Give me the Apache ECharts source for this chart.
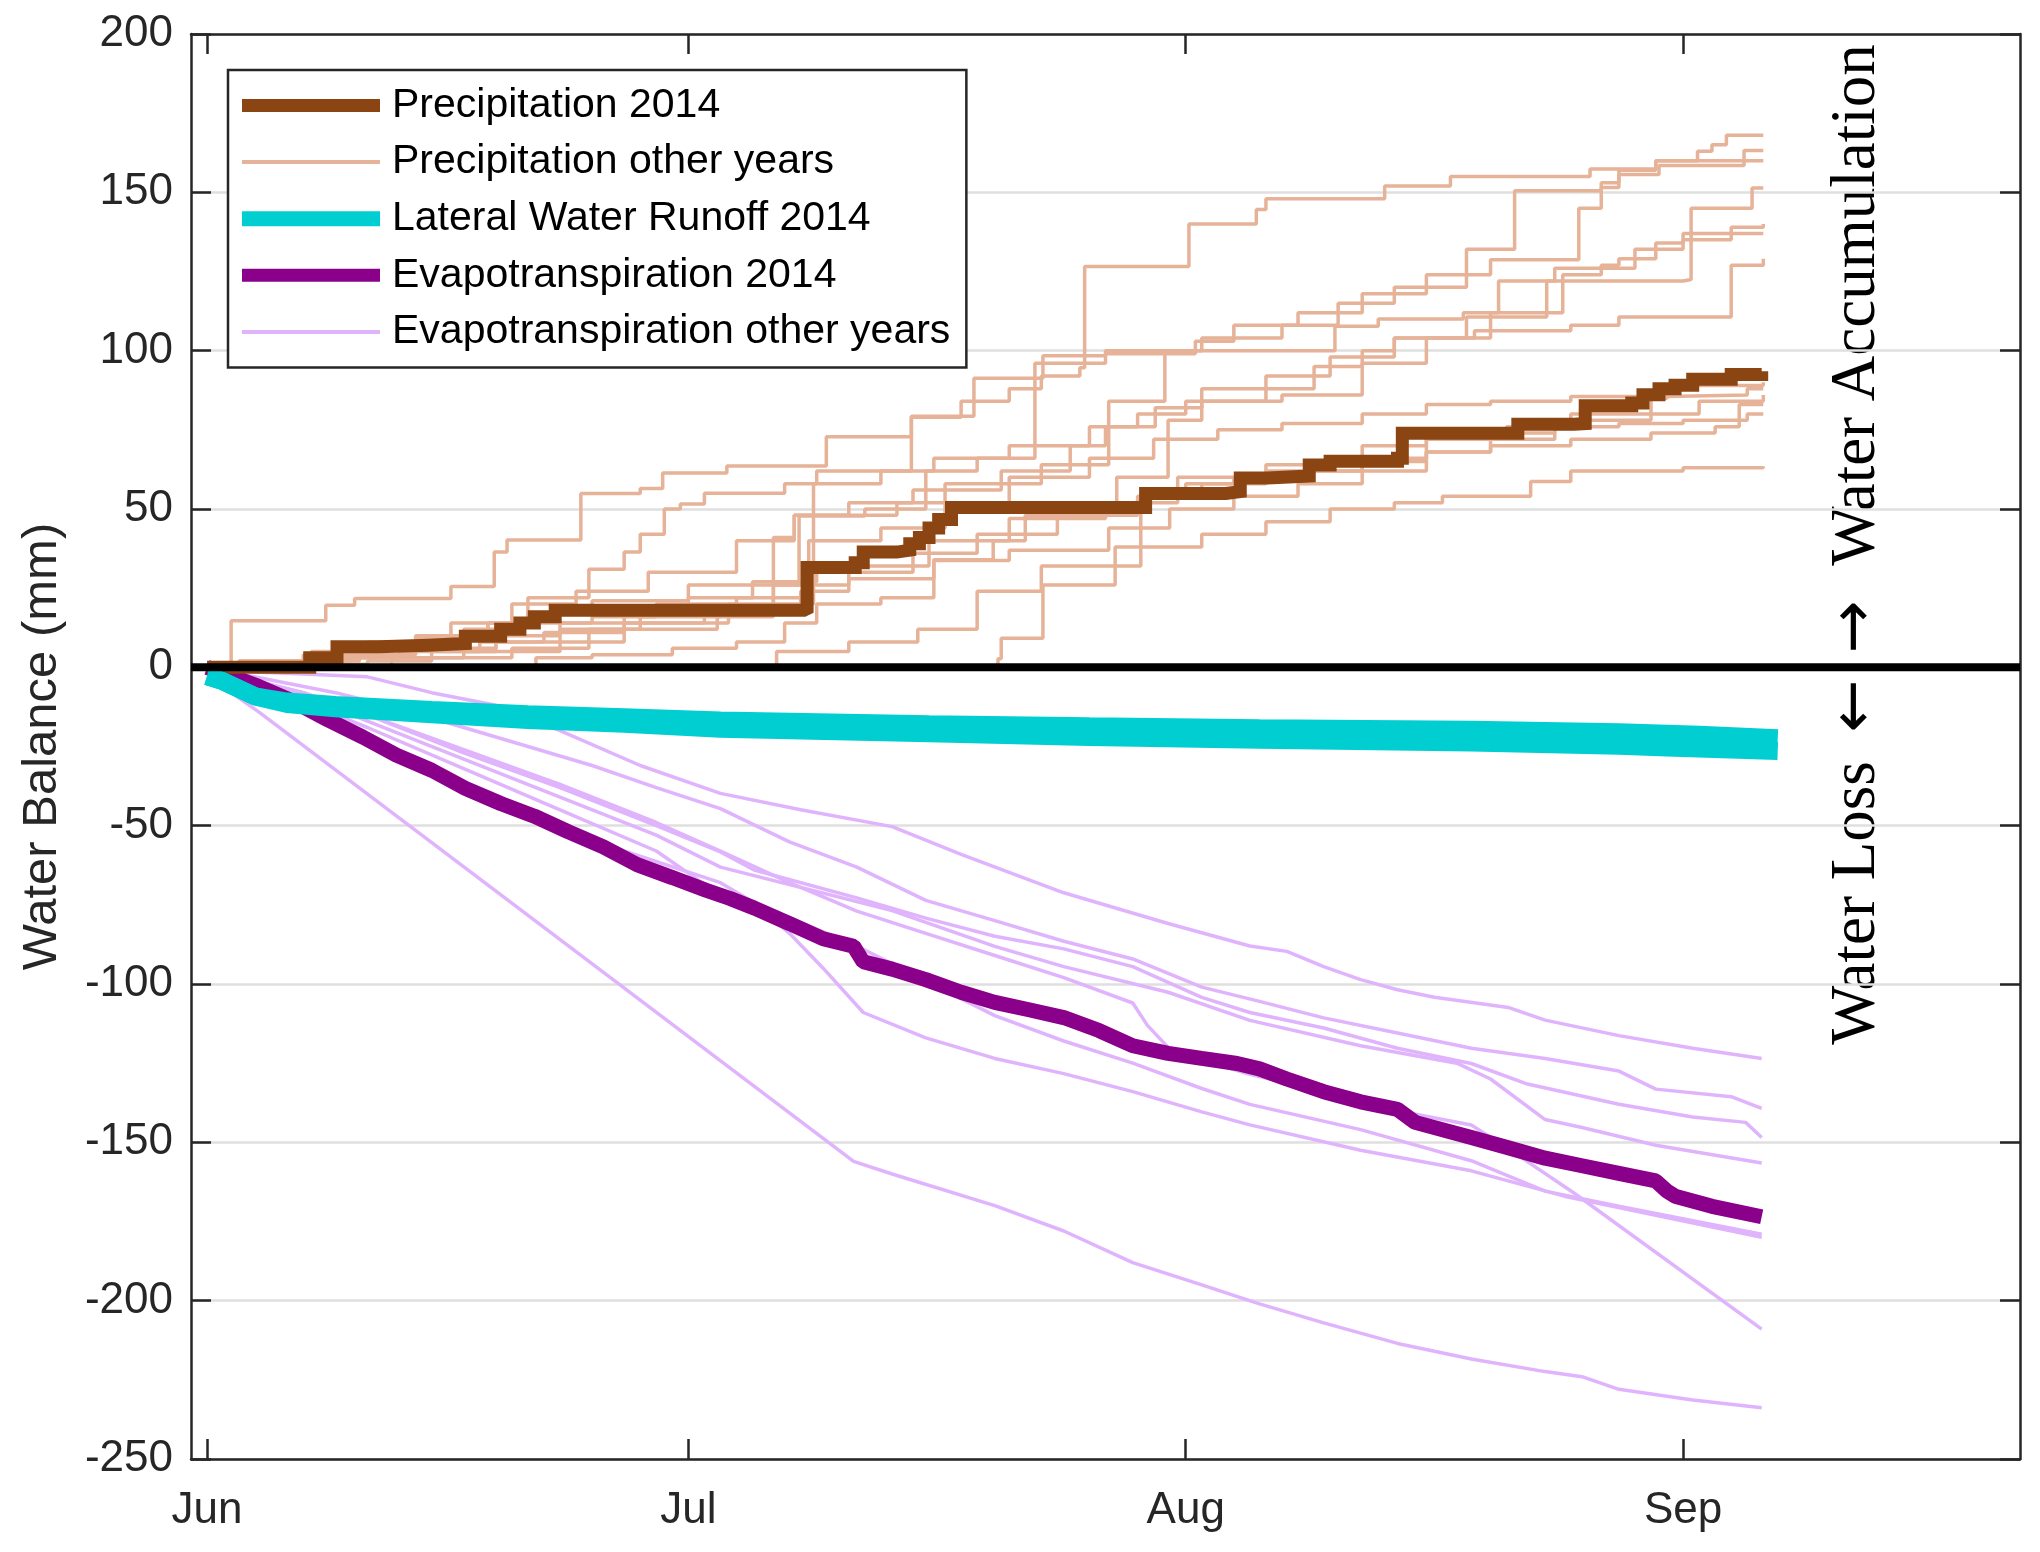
<!DOCTYPE html>
<html>
<head>
<meta charset="utf-8">
<script src="https://cdn.jsdelivr.net/npm/echarts@6/dist/echarts.min.js"></script>
<style>
  html, body { margin: 0; padding: 0; background: #fff; }
  #chart { width: 2040px; height: 1552px; }
</style>
</head>
<body>
<div id="chart"></div>
<script>
// ---- Axis definitions (days since 1 June) ----
const monthTickDays = [0, 30, 61, 92];
const monthLabels = ['Jun', 'Jul', 'Aug', 'Sep'];
const xMinDay = -1;
const xMaxDay = 113;
const yMin = -250;
const yMax = 200;
const yStep = 50;

// ---- Precipitation 2014 (cumulative, mm) : [day, value after step] ----
const precip2014 = [[0,0],[6.2,0],[6.4,3],[7.9,3],[8.1,6.5],[10.7,7],[13.8,7.5],[16.1,9.8],[18.3,12],[19.5,14],[20.4,16],[21.7,18],[37.2,18.5],[37.4,31.5],[40.4,33],[40.9,36.4],[43,37],[43.8,39],[44.4,41],[45,44],[45.6,46.7],[46.4,50.5],[58.3,50.5],[58.5,54.9],[63.5,55.5],[64.4,59.8],[66.1,60.4],[68.7,63.9],[70,65.1],[74.2,66],[74.5,73.9],[81.4,73.9],[81.7,76.8],[85.2,77],[85.9,82.6],[88.8,83.5],[89.5,86.1],[90.5,88],[91.5,89.1],[92.6,91],[95,92.5],[96.9,93.5]];

// ---- Precipitation other years ----
const precipOtherYears = [
  [[0,0],[2.5,1],[6,2],[9.5,6],[13,9],[17.5,14],[19,20],[23,24],[27.5,30],[33,40],[36.6,48],[43,52],[46,58],[52,64],[56.2,84],[59.7,100],[62,104],[67,108],[70.5,115],[74,120],[78.5,132],[81.5,150.5],[86.9,153],[88,157],[90.3,160],[92.9,163],[93.8,165],[94.7,168],[97,168]],
  [[0,0],[4,1],[8,4],[12,8],[15.2,14],[20,17],[24,21],[30,26],[36.9,47.8],[41,50],[44.8,62],[48,66],[51.6,96],[56,99],[61.6,103],[64,108],[68,112],[72,118],[76,124],[80,128.7],[85.5,145],[86.9,151.5],[88,155.6],[90.5,158.5],[95.8,163.2],[97,163.2]],
  [[0,0],[2,2],[6.5,5],[10,8],[14,10],[17.5,14],[20,22],[23.8,31],[26,36.4],[27,42],[28.5,50],[29.5,51.6],[31,55],[36,58],[38,62],[43.9,79],[47,84],[50,88],[52,92],[54.4,94.6],[54.7,126.6],[61,126.6],[61.2,140],[65.4,144.6],[66,148],[73.4,152],[77.5,155],[86.2,157.4],[90.3,160],[97,160]],
  [[0,0],[11,0],[11.5,3],[16,5],[22,8],[26,12],[31.8,16],[35.3,41],[36.6,48],[40,52],[44,56],[49.5,62],[53.8,70],[56,76],[59.1,82],[62,88],[66,92],[70,98],[74,104],[78.5,110.6],[83.5,122],[92,122.5],[92.5,145],[96.3,151.4],[97,151.4]],
  [[0,0],[7,0],[7.5,4],[13,6],[18,10],[22,12],[27,14],[32.5,20],[37.8,58],[42,62],[45.3,66],[50,70],[55,76],[58,80],[61,84],[67,86],[72,96],[76,104],[80,112],[84.5,124],[86.9,127],[88,129],[90.3,134],[92,137],[95,139],[97,140]],
  [[0,0],[1.5,14.7],[7.4,19.6],[9.2,21.7],[15.2,25.5],[17.9,36.4],[18.7,40.2],[23.3,54.9],[27,56.5],[28.4,61.4],[32.4,63.6],[38.6,72.8],[43.9,79.3],[47.8,91.3],[52.1,98.4],[56,100],[70.3,107.7],[73,110],[78.3,112],[80.5,122],[84,126],[89,132],[92,135],[95,137],[97,137]],
  [[0,0],[3,0],[3.5,2],[9,3],[14,5],[17,8],[21,11],[26,14],[31,18],[37,24],[40,28],[45.3,34],[49,40],[51,48],[56.7,60],[59.9,78],[62,84],[66,88],[69,95],[72,100],[74,104],[79,106.3],[85,108],[88,110.6],[95,127],[97,129]],
  [[0,0],[6,1],[10,2],[14,3],[19,6],[23.8,12],[26,18],[30,22],[34,27],[38,30],[44,36],[48,42],[53,48],[58,54],[61,58],[64,60],[68,62],[72,65],[76,72],[81,76],[85,80],[90,85],[91,89],[97,90]],
  [[0,0],[1,0],[2,2],[6,4],[10,7],[13,10],[16,12],[19,14],[24,16],[28,20],[33,22],[37.5,40],[42,44],[46,52],[50,60],[55,66],[59,72],[63,75],[67,77],[72,80],[76,83],[80,84],[85,85.5],[91,86],[96,88],[97,88]],
  [[0,0],[8,0],[8.5,3],[12,5],[18,8],[22,14],[27,16],[32,18],[35.3,26],[40,32],[45,40],[50,47],[56,52],[60.5,60],[66,64],[70,66],[76,68],[80,70],[85,72],[90,74],[94,76],[95.5,83],[97,83]],
  [[0,0],[20,0],[20.5,3],[24,4],[29,6],[33,8],[36,14],[38,20],[42,22],[45.3,33.7],[50,37],[56.2,44],[60,50],[64,54],[68,58],[72,62],[76,68],[80,72],[84,76],[88,77],[92,78],[96,80],[97,80]],
  [[0,0],[49.3,2.7],[49.5,9.2],[52.1,26],[56.6,38],[62,42],[66,46],[70,50],[74,52],[77,54],[82.5,58.7],[85,62],[92,63],[97,63.4]],
  [[0,0],[35,0],[35.5,5],[40,8],[44.3,12],[48,24],[52,32],[58.2,54],[62,58],[66,62],[72,70],[76,74],[84,78],[90,80],[93,84],[97,86]]
];

// ---- Lateral water runoff 2014 (two edges of the plotted band) ----
const runoff2014Upper = [[0,-2.8],[1,-4.4],[2,-6.8],[3,-9.2],[5,-10.8],[8,-11.9],[14,-13.5],[20,-14.8],[26,-15.8],[32,-16.8],[45,-18],[55,-18.6],[65.6,-19.2],[78.8,-19.7],[88,-20.5],[93,-21.3],[97.9,-22.4]];
const runoff2014Lower = [[0,-2.8],[1,-4.4],[2,-6.8],[3,-9.2],[5,-11.6],[8,-12.9],[14,-14.8],[20,-16.6],[26,-17.8],[32,-19.4],[45,-20.8],[55,-22],[65.6,-22.9],[78.8,-23.7],[88,-24.8],[91,-25.3],[97.9,-26.4]];

// ---- Evapotranspiration 2014 ----
const et2014 = [[0,0],[1.1,-2],[3.2,-6],[5.4,-10.8],[7.5,-16.5],[9.7,-22],[11.8,-27.7],[14,-32.5],[16.1,-38.2],[18.3,-43],[20.4,-47],[22.5,-51.9],[24.7,-56.7],[26.8,-62.3],[29,-66.4],[31.1,-70.4],[32.6,-73],[34.1,-76],[36.3,-80.9],[38.4,-85.7],[40.3,-88.1],[40.9,-93],[42.7,-95.3],[44.8,-98.6],[47,-102.6],[49.1,-105.8],[51.3,-108.2],[53.4,-110.6],[55.6,-114.7],[57.7,-119.5],[59.9,-121.9],[62,-123.5],[64.2,-125.1],[65.6,-126.8],[67.3,-130],[69.6,-134],[71.9,-137.2],[74.2,-139.6],[75.3,-143.7],[78.8,-148.5],[81.1,-151.7],[83.4,-155],[85.7,-157.4],[88,-159.8],[90.3,-162.2],[91,-165.4],[91.5,-167],[93.8,-170.2],[96.9,-173.5]];

// ---- Evapotranspiration other years ----
const etOtherYears = [
  [[0,0],[3,-1.5],[10,-3],[14,-8],[18,-12],[22,-20],[27,-31],[32,-39.8],[37,-45],[42.7,-50.3],[47,-59.1],[53.4,-71.2],[59.9,-80.9],[65,-88],[67.3,-89.7],[69.6,-94.5],[71.9,-98.6],[74.2,-101.8],[76.5,-104.2],[81.1,-107.4],[83.4,-111.4],[88,-116.3],[92.6,-120.3],[96.9,-123.5]],
  [[0,0],[2,-2],[5,-5],[8,-8],[12,-13],[16,-19],[20,-25],[24,-31],[28,-38],[32,-44.6],[36.3,-55.1],[40.5,-63.1],[44.8,-73.6],[49.1,-80],[53.4,-86.5],[57.7,-92.1],[62,-101],[65.6,-105.5],[69.6,-110.7],[74.2,-115.5],[78.8,-120.3],[83.4,-123.5],[88,-127.5],[90.3,-133.2],[95,-135.6],[96.9,-139.3]],
  [[0,0],[2,-3],[6,-8],[10,-15],[16,-27],[22,-38],[28,-50],[32,-58.3],[34.1,-64],[40.5,-72.8],[44.8,-79.2],[49.1,-84.9],[53.4,-88.9],[57.7,-94.5],[62,-104.2],[65,-109],[69.6,-113.9],[74.2,-120.3],[78.8,-125.1],[82.3,-131.6],[88,-138],[92.6,-142],[95.9,-143.7],[96.9,-148.5]],
  [[0,0],[2,-3],[6,-9],[10,-17],[16,-29],[22,-41],[28,-53],[32,-63.1],[42.7,-76.8],[49.1,-88.1],[53.4,-94.5],[59.9,-102.6],[65,-111.5],[71.9,-119.5],[77.9,-125],[80,-130],[83.4,-142.8],[85.7,-145.3],[90.3,-150.9],[96.9,-156.5]],
  [[0,0],[2,-4],[6,-11],[10,-19],[16,-32],[22,-45],[28,-58],[32,-72],[36.3,-79],[40.5,-88],[44.8,-99],[49.1,-110],[53.4,-118],[57.7,-125],[62,-133],[65,-138],[71.9,-146],[78.8,-155.8],[83.4,-165.4],[88,-170.2],[96.9,-179]],
  [[0,0],[2,-5],[8,-17],[14,-32],[20,-46],[26,-58],[32,-68],[34,-74],[36.3,-84],[38.4,-95],[40.9,-109],[44.8,-117],[49.1,-123.5],[53.4,-128.3],[57.7,-134],[62,-140.4],[65,-144.5],[71.9,-152.5],[78.8,-159],[84.6,-167],[96.9,-180]],
  [[0,0],[2,-3],[6,-8],[10,-15],[16,-26],[22,-37],[28,-49],[32,-58],[36.3,-68],[40.5,-77],[44.8,-84],[49.1,-91],[53.4,-98],[57.7,-106],[58.6,-113],[59.9,-120],[62,-124],[65,-128.5],[69.6,-134],[74.2,-140],[78.8,-144.5],[81.1,-152],[85.2,-166],[96.9,-209]],
  [[0,0],[1,-2],[1.8,-9],[3.2,-14],[40.3,-156],[42.7,-160],[49.1,-170],[53.4,-178],[57.7,-188],[62,-195],[65.6,-201],[69.6,-207],[74.2,-213.5],[78.8,-218.4],[83.4,-222.4],[85.7,-224],[88,-228],[92.6,-231.4],[96.9,-233.8]]
];

// zero reference line
const zeroLine = [[xMinDay, 0], [xMaxDay, 0]];

// ---- names & colours ----
const NAME_P14 = 'Precipitation 2014';
const NAME_PO = 'Precipitation other years';
const NAME_R14 = 'Lateral Water Runoff 2014';
const NAME_E14 = 'Evapotranspiration 2014';
const NAME_EO = 'Evapotranspiration other years';
const C_P14 = '#8B4513', C_PO = '#E6B298', C_R14 = '#00CED1', C_E14 = '#8B008B', C_EO = '#E0B4FC';

const series = [];
etOtherYears.forEach(d => series.push({
  name: NAME_EO, type: 'line', data: d, symbol: 'none', smooth: false,
  lineStyle: { color: C_EO, width: 3.5 }, itemStyle: { color: C_EO }, z: 2
}));
precipOtherYears.forEach(d => series.push({
  name: NAME_PO, type: 'line', data: d, symbol: 'none', step: 'end',
  lineStyle: { color: C_PO, width: 3.5 }, itemStyle: { color: C_PO }, z: 2
}));
series.push({ name: NAME_E14, type: 'line', data: et2014, symbol: 'none',
  lineStyle: { color: C_E14, width: 15 }, itemStyle: { color: C_E14 }, z: 3 });
series.push({ name: NAME_P14, type: 'line', data: precip2014, symbol: 'none', step: 'end',
  lineStyle: { color: C_P14, width: 13, join: 'miter' }, itemStyle: { color: C_P14 }, z: 3 });
[runoff2014Upper, runoff2014Lower].forEach(d => series.push({
  name: NAME_R14, type: 'line', data: d, symbol: 'none',
  lineStyle: { color: C_R14, width: 18, cap: 'butt' }, itemStyle: { color: C_R14 }, z: 3
}));
series.push({ name: 'zero', type: 'line', data: zeroLine, symbol: 'none', silent: true,
  lineStyle: { color: '#000', width: 8 }, z: 4 });

const axisColor = '#262626';
const chart = echarts.init(document.getElementById('chart'), null, { renderer: 'canvas' });
chart.setOption({
  animation: false,
  backgroundColor: '#fff',
  grid: { left: 191, right: 20, top: 34, bottom: 93, containLabel: false },
  xAxis: [{
    type: 'value', min: xMinDay, max: xMaxDay, position: 'bottom',
    axisLine: { show: true, onZero: false, lineStyle: { color: axisColor, width: 2.5 } },
    axisTick: { show: true, inside: true, length: 20, customValues: monthTickDays, lineStyle: { color: axisColor, width: 2.5 } },
    axisLabel: { show: true, customValues: monthTickDays, margin: 30, fontSize: 44, fontFamily: 'Liberation Sans', color: axisColor,
      formatter: v => { const i = monthTickDays.indexOf(Math.round(v)); return i >= 0 ? monthLabels[i] : ''; } },
    splitLine: { show: false }
  }, {
    type: 'value', min: xMinDay, max: xMaxDay, position: 'top',
    axisLine: { show: true, onZero: false, lineStyle: { color: axisColor, width: 2.5 } },
    axisTick: { show: true, inside: true, length: 20, customValues: monthTickDays, lineStyle: { color: axisColor, width: 2.5 } },
    axisLabel: { show: false }, splitLine: { show: false }
  }],
  yAxis: [{
    type: 'value', min: yMin, max: yMax, interval: yStep, position: 'left',
    name: 'Water Balance (mm)', nameLocation: 'middle', nameGap: 124,
    nameTextStyle: { fontSize: 49, fontFamily: 'Liberation Sans', color: axisColor },
    axisLine: { show: true, onZero: false, lineStyle: { color: axisColor, width: 2.5 } },
    axisTick: { show: true, inside: true, length: 20, lineStyle: { color: axisColor, width: 2.5 } },
    axisLabel: { margin: 18, fontSize: 44, fontFamily: 'Liberation Sans', color: axisColor },
    splitLine: { show: true, lineStyle: { color: '#DFDFDF', width: 2.5 } }
  }, {
    type: 'value', min: yMin, max: yMax, interval: yStep, position: 'right',
    axisLine: { show: true, onZero: false, lineStyle: { color: axisColor, width: 2.5 } },
    axisTick: { show: true, inside: true, length: 20, lineStyle: { color: axisColor, width: 2.5 } },
    axisLabel: { show: false }, splitLine: { show: false }
  }],
  legend: {
    show: true, orient: 'vertical', left: 228, top: 70,
    padding: [15, 16, 15, 14], itemGap: 15.6, itemWidth: 138, itemHeight: 15,
    backgroundColor: '#fff', borderColor: axisColor, borderWidth: 2.5,
    selectedMode: false,
    itemStyle: { borderWidth: 0 },
    textStyle: { fontSize: 41, fontFamily: 'Liberation Sans', color: '#000', lineHeight: 41, padding: [0, 0, 0, 7] },
    data: [
      { name: NAME_P14, icon: 'path://M0,0H138V13H0Z' },
      { name: NAME_PO, icon: 'path://M0,0H138V4H0Z' },
      { name: NAME_R14, icon: 'path://M0,0H138V15H0Z' },
      { name: NAME_E14, icon: 'path://M0,0H138V13H0Z' },
      { name: NAME_EO, icon: 'path://M0,0H138V4H0Z' }
    ]
  },
  graphic: [
    { type: 'text', x: 1857, y: 903, rotation: Math.PI / 2, silent: true,
      style: { text: 'Water Loss', font: '63px "Liberation Serif"', fill: '#000', align: 'center', verticalAlign: 'middle' } },
    { type: 'text', x: 1857, y: 706, rotation: Math.PI / 2, silent: true,
      style: { text: '\u2190', font: '63px "DejaVu Sans"', fill: '#000', align: 'center', verticalAlign: 'middle' } },
    { type: 'text', x: 1857, y: 627, rotation: Math.PI / 2, silent: true,
      style: { text: '\u2192', font: '63px "DejaVu Sans"', fill: '#000', align: 'center', verticalAlign: 'middle' } },
    { type: 'text', x: 1857, y: 305, rotation: Math.PI / 2, silent: true,
      style: { text: 'Water Accumulation', font: '63px "Liberation Serif"', fill: '#000', align: 'center', verticalAlign: 'middle' } }
  ],
  series: series
});
</script>
</body>
</html>
